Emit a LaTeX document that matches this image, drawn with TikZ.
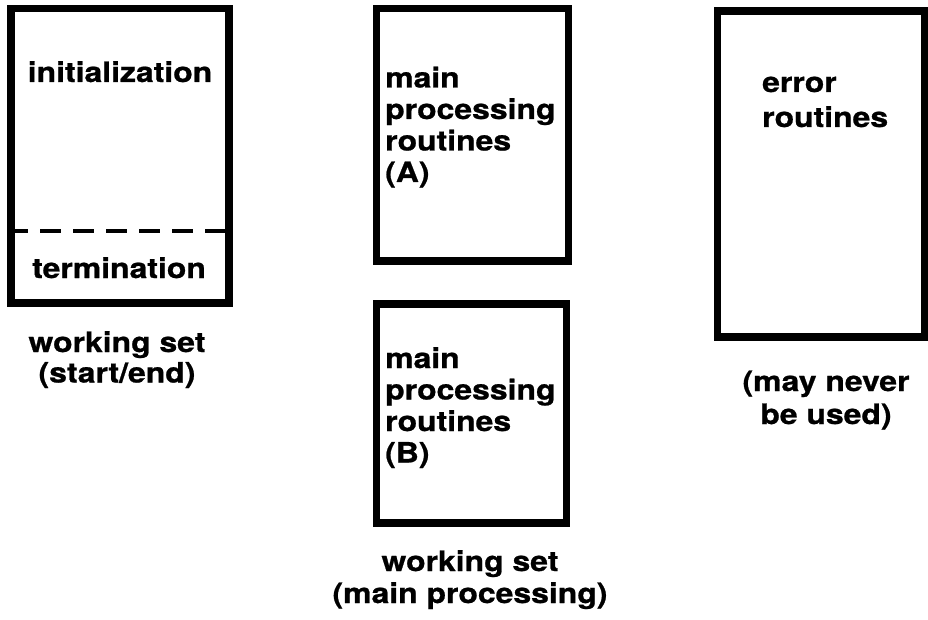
\documentclass[tikz,border=0pt]{standalone}
\usepackage{fontspec}
\newfontfamily\figfont{TeX Gyre Heros}[FakeStretch=1.14, BoldFeatures={FakeBold=0.8}]
\begin{document}
\begin{tikzpicture}[x=1pt,y=-1pt,
  box/.style={draw, line width=7.5pt, rectangle, inner sep=0pt},
  divider/.style={line width=3.2pt, dash pattern=on 21pt off 12pt},
  lbl/.style={inner sep=0pt, font=\figfont\bfseries\fontsize{28}{31.5}\selectfont},
  ]
\useasboundingbox (0,0) rectangle (928,620);
\fill[white] (0,0) rectangle (928,620);

% start/end working set (multi-line texts are placed by their last baseline)
\node[box, minimum width=218pt, minimum height=294.5pt] (ws1) at (120,155.75) {};
\node[lbl, anchor=base] (init) at (120,82) {initialization};
\node[lbl, anchor=base] (term) at (119,278) {termination};
\draw[divider] (ws1.west |- 0,231) -- (ws1.east |- 0,231);
\node[lbl, anchor=base, align=center, font=\figfont\bfseries\fontsize{28}{30.5}\selectfont]
  (ws1lbl) at (117,382.5) {working set\\(start/end)};

% main processing working set
\node[box, minimum width=192pt, minimum height=252.5pt] (mpA) at (472.5,134.75) {};
\node[lbl, anchor=base west, align=left] (mpAtxt) at (385,182)
  {main\\processing\\routines\\(A)};
\node[box, minimum width=190pt, minimum height=219pt] (mpB) at (471.5,413.5) {};
\node[lbl, anchor=base west, align=left] (mpBtxt) at (385,462.5)
  {main\\processing\\routines\\(B)};
\node[lbl, anchor=base, align=center, font=\figfont\bfseries\fontsize{28}{32}\selectfont]
  (ws2lbl) at (470,603) {working set\\(main processing)};

% error routines
\node[box, minimum width=207.5pt, minimum height=326pt] (err) at (821.25,174) {};
\node[lbl, anchor=base west, align=left, font=\figfont\bfseries\fontsize{28}{35}\selectfont]
  (errtxt) at (762,127) {error\\routines};
\node[lbl, anchor=base, align=center, font=\figfont\bfseries\fontsize{28}{33}\selectfont]
  (errlbl) at (826,424) {(may never\\be used)};
\end{tikzpicture}
\end{document}
